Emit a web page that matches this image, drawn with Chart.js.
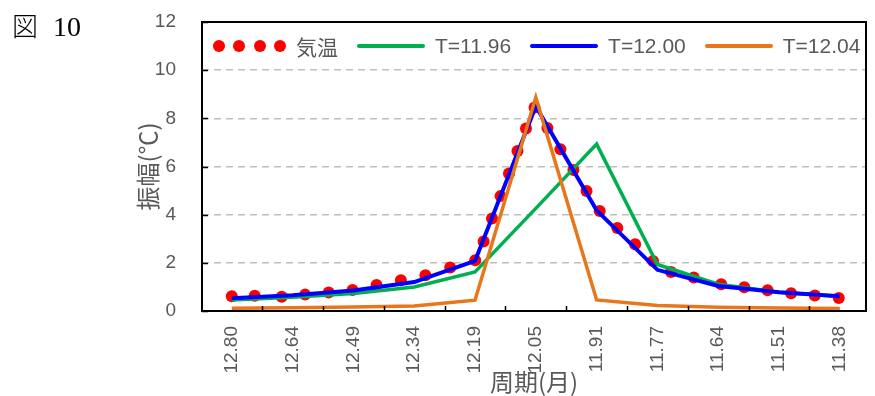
<!DOCTYPE html>
<html lang="ja">
<head>
<meta charset="utf-8">
<script src="https://cdn.jsdelivr.net/npm/chart.js@4/dist/chart.umd.min.js"></script>
<style>
  html, body { margin: 0; padding: 0; background: #fff; }
  #wrap { position: relative; width: 875px; height: 396px; overflow: hidden; }
  #fig { position: absolute; left: 12px; top: 6px; color: #000; white-space: nowrap; }
  #fig .ch { font-family: "Noto Sans CJK JP", sans-serif; font-weight: 300; font-size: 26px; }
  #fig .num { font-family: "Liberation Serif", serif; font-size: 28px; margin-left: 15px; }
  #legend { position: absolute; left: 213px; top: 34px; height: 24px; display: flex; align-items: center;
            font-family: "Liberation Sans", sans-serif; font-size: 21px; color: #595959; white-space: nowrap; }
  #legend .item { display: flex; align-items: center; margin-right: 19px; }
  #legend .txt { margin-left: 10px; }
  #legend .cjk { font-family: "Noto Sans CJK JP", sans-serif; }
  #legend .dots { display: flex; width: 73px; justify-content: space-between; }
  #legend .dot { width: 12px; height: 12px; border-radius: 50%; }
  #legend .bar { width: 68px; height: 4px; border-radius: 2px; }
</style>
</head>
<body>
<div id="wrap">
  <canvas id="c" width="875" height="396"></canvas>
  <div id="fig"><span class="ch">図</span><span class="num">10</span></div>
  <div id="legend"></div>
</div>
<script>
// Spectrum of a 1024-month record: bin k corresponds to a period of 1024/k months.
const RECORD_MONTHS = 1024;

// Frequency bins shown on the axis and their period labels (months)
const bins = [80, 81, 82, 83, 84, 85, 86, 87, 88, 89, 90];
const periodLabels = ['12.80', '12.64', '12.49', '12.34', '12.19', '12.05', '11.91', '11.77', '11.64', '11.51', '11.38'];

// Air temperature amplitude, evaluated at these periods (months)
const tempPeriods = [12.80, 12.74, 12.67, 12.61, 12.55, 12.49, 12.43, 12.37, 12.31, 12.25, 12.19,
                     12.17, 12.15, 12.13, 12.11, 12.09, 12.07, 12.05, 12.02, 11.99, 11.96, 11.93, 11.90,
                     11.86, 11.82, 11.78, 11.74, 11.69, 11.63, 11.58, 11.53, 11.48, 11.43, 11.38];
const tempAmp = [0.61, 0.63, 0.59, 0.68, 0.77, 0.87, 1.08, 1.28, 1.48, 1.81, 2.11,
                 2.89, 3.84, 4.77, 5.71, 6.64, 7.58, 8.45, 7.60, 6.72, 5.85, 4.98, 4.15,
                 3.45, 2.77, 2.08, 1.62, 1.39, 1.11, 0.99, 0.86, 0.74, 0.64, 0.54];

// Amplitude at each bin for sinusoids of period T
const ampT1196 = [0.46, 0.57, 0.73, 1.00, 1.62, 4.26, 6.93, 1.93, 1.11, 0.78, 0.60];
const ampT1200 = [0.53, 0.65, 0.85, 1.20, 2.08, 8.50, 4.18, 1.71, 1.04, 0.78, 0.61];
const ampT1204 = [0.11, 0.13, 0.17, 0.21, 0.45, 8.87, 0.46, 0.23, 0.16, 0.12, 0.10];

const yTicks = [0, 2, 4, 6, 8, 10, 12];

const seriesNames = ['気温', 'T=11.96', 'T=12.00', 'T=12.04'];
const seriesColors = ['#FF0000', '#00B050', '#0000FF', '#E8761B'];

const tickFont = { family: '"Liberation Sans", sans-serif', size: 19 };
const titleFont = { family: '"Noto Sans CJK JP", sans-serif', size: 24 };
const textGray = '#595959';

const toBin = p => RECORD_MONTHS / p;

// Plot frame and inward tick marks
const framePlugin = {
  id: 'frame',
  afterDraw(chart) {
    const { ctx, chartArea: a, scales: { x, y } } = chart;
    ctx.save();
    ctx.strokeStyle = '#000';
    ctx.lineWidth = 1.5;
    ctx.beginPath();
    yTicks.forEach(v => {
      const py = Math.round(y.getPixelForValue(v)) + 0.5;
      ctx.moveTo(a.left, py); ctx.lineTo(a.left + 6, py);
    });
    bins.slice(0, -1).forEach(k => {
      const px = Math.round(x.getPixelForValue(k + 0.5)) + 0.5;
      ctx.moveTo(px, a.bottom); ctx.lineTo(px, a.bottom - 5);
    });
    ctx.stroke();
    ctx.lineWidth = 2;
    ctx.strokeRect(a.left, a.top, a.right - a.left, a.bottom - a.top);
    ctx.restore();
  }
};

const chart = new Chart(document.getElementById('c'), {
  type: 'scatter',
  data: {
    datasets: [
      {
        label: seriesNames[0],
        data: tempPeriods.map((p, i) => ({ x: toBin(p), y: tempAmp[i] })),
        showLine: false,
        pointRadius: 6,
        pointBackgroundColor: seriesColors[0],
        pointBorderWidth: 0,
        order: 4
      },
      {
        label: seriesNames[1],
        data: bins.map((k, i) => ({ x: k, y: ampT1196[i] })),
        showLine: true, pointRadius: 0, borderColor: seriesColors[1], borderWidth: 3.5,
        order: 3
      },
      {
        label: seriesNames[2],
        data: bins.map((k, i) => ({ x: k, y: ampT1200[i] })),
        showLine: true, pointRadius: 0, borderColor: seriesColors[2], borderWidth: 4,
        order: 2
      },
      {
        label: seriesNames[3],
        data: bins.map((k, i) => ({ x: k, y: ampT1204[i] })),
        showLine: true, pointRadius: 0, borderColor: seriesColors[3], borderWidth: 3.5,
        order: 1
      }
    ]
  },
  options: {
    responsive: false,
    animation: false,
    layout: { padding: { left: 133, top: 22, right: 9, bottom: 0 } },
    plugins: { legend: { display: false }, tooltip: { enabled: false } },
    scales: {
      x: {
        type: 'linear',
        min: 79.51,
        max: 90.43,
        afterBuildTicks: s => { s.ticks = bins.map(v => ({ value: v })); },
        afterFit: s => { s.height = 85; s.paddingLeft = 0; s.paddingRight = 0; },
        ticks: {
          autoSkip: false,
          minRotation: 90,
          maxRotation: 90,
          padding: 15,
          font: tickFont,
          color: textGray,
          callback: (v, i) => periodLabels[i]
        },
        grid: { display: false, drawTicks: false },
        border: { display: false },
        title: { display: true, text: '周期(月)', font: titleFont, color: textGray, padding: 0 }
      },
      y: {
        min: 0,
        max: 12,
        afterBuildTicks: s => { s.ticks = yTicks.map(v => ({ value: v })); },
        afterFit: s => { s.width = 69; s.paddingTop = 0; s.paddingBottom = 0; },
        ticks: { padding: 26, font: tickFont, color: textGray },
        grid: {
          drawTicks: false,
          lineWidth: 1.5,
          color: c => (c.tick && (c.tick.value === 0 || c.tick.value === 12)) ? 'rgba(0,0,0,0)' : '#BFBFBF'
        },
        border: { display: false, dash: [7, 5] },
        title: { display: true, text: '振幅(℃)', font: titleFont, color: textGray, padding: 0 }
      }
    }
  },
  plugins: [framePlugin]
});

// Legend row built from the chart's datasets
const legendEl = document.getElementById('legend');
chart.data.datasets.forEach((ds, i) => {
  const item = document.createElement('div');
  item.className = 'item';
  const mark = document.createElement('div');
  if (i === 0) {
    mark.className = 'dots';
    for (let d = 0; d < 4; d++) {
      const dot = document.createElement('div');
      dot.className = 'dot';
      dot.style.background = ds.pointBackgroundColor;
      mark.appendChild(dot);
    }
  } else {
    mark.className = 'bar';
    mark.style.background = ds.borderColor;
  }
  const txt = document.createElement('span');
  txt.className = 'txt' + (i === 0 ? ' cjk' : '');
  txt.textContent = ds.label;
  item.appendChild(mark);
  item.appendChild(txt);
  legendEl.appendChild(item);
});
</script>
</body>
</html>
